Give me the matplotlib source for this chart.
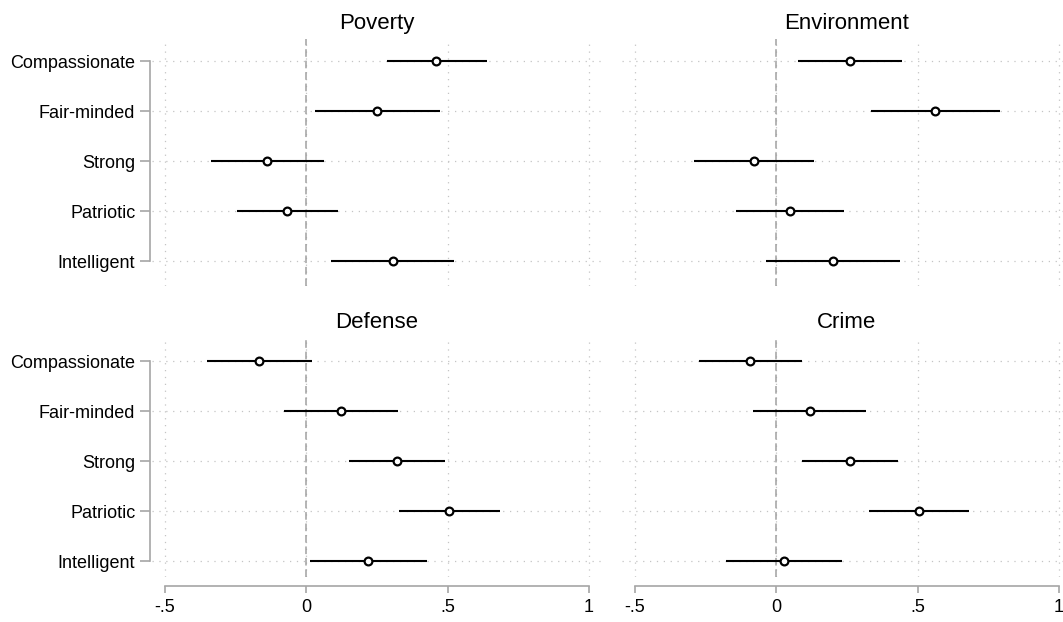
"""
Coefficient plot: trait effects on four issue areas (2x2 panels).
"""

import matplotlib
matplotlib.use("Agg")
import matplotlib.pyplot as plt
import numpy as np

plt.rcParams.update({
    "font.family": ["Liberation Sans", "DejaVu Sans"],
    "font.size": 13,
})

# ── Data (point estimate, lower CI, upper CI), top row first ──────────────────

traits = ["Compassionate", "Fair-minded", "Strong", "Patriotic", "Intelligent"]
panels = ["Poverty", "Environment", "Defense", "Crime"]

poverty_est = [0.460, 0.251, -0.139, -0.067, 0.306]
poverty_lo  = [0.286, 0.030, -0.338, -0.247, 0.087]
poverty_hi  = [0.640, 0.472, 0.062, 0.113, 0.524]

environment_est = [0.260, 0.561, -0.080, 0.047, 0.200]
environment_lo  = [0.076, 0.334, -0.291, -0.143, -0.037]
environment_hi  = [0.443, 0.791, 0.134, 0.239, 0.437]

defense_est = [-0.169, 0.121, 0.320, 0.505, 0.218]
defense_lo  = [-0.353, -0.080, 0.152, 0.327, 0.013]
defense_hi  = [0.020, 0.326, 0.491, 0.684, 0.427]

crime_est = [-0.092, 0.118, 0.261, 0.504, 0.026]
crime_lo  = [-0.274, -0.081, 0.090, 0.327, -0.178]
crime_hi  = [0.092, 0.318, 0.431, 0.682, 0.231]

xticks = [-0.5, 0, 0.5, 1]
xticklabels = ["-.5", "0", ".5", "1"]

series = {
    "Poverty": (poverty_est, poverty_lo, poverty_hi),
    "Environment": (environment_est, environment_lo, environment_hi),
    "Defense": (defense_est, defense_lo, defense_hi),
    "Crime": (crime_est, crime_lo, crime_hi),
}

GRID = "#c4c4c4"
AXIS = "#a6a6a6"

W, H = 1063, 622
fig = plt.figure(figsize=(W / 100, H / 100), dpi=100)

# axes boxes in pixels: (left, top, right, bottom)
boxes = {
    "Poverty":     (152, 39, 602, 286),
    "Environment": (622, 39, 1072, 286),
    "Defense":     (152, 338, 602, 577),
    "Crime":       (622, 338, 1072, 577),
}
row_top = {"Poverty": 61, "Environment": 61, "Defense": 361, "Crime": 361}

ypos = np.arange(len(traits), 0, -1)  # Compassionate = 5 ... Intelligent = 1

for name in panels:
    l, t, r, b = boxes[name]
    ax = fig.add_axes([l / W, 1 - b / H, (r - l) / W, (b - t) / H])
    est, lo, hi = series[name]

    # y limits so rows land at 50 px spacing
    y_top = row_top[name]
    ax.set_ylim(1 - (b - (y_top + 200)) / 50, 5 + (y_top - t) / 50)
    ax.set_xlim(-0.5 - 13 / 283, 1 + 13 / 283)

    for x in xticks:
        ax.axvline(x, color=GRID, lw=0.9, ls=(0, (1, 4.5)), zorder=1)
    for y in ypos:
        ax.axhline(y, color=GRID, lw=0.9, ls=(0, (1, 4.5)), zorder=1)
    ax.axvline(0, color="#a0a0a0", lw=1.1, ls=(0, (5, 2.5)), zorder=2)

    ax.hlines(ypos, lo, hi, color="black", lw=1.5, zorder=3)
    ax.plot(est, ypos, "o", ms=5.6, mfc="white", mec="black", mew=1.6, zorder=4)

    ax.set_title(name, fontsize=16, pad=7)

    for s in ["top", "right"]:
        ax.spines[s].set_visible(False)

    left_col = name in ("Poverty", "Defense")
    bottom_row = name in ("Defense", "Crime")

    if left_col:
        ax.spines["left"].set_position(("outward", 1.5))
        ax.spines["left"].set_bounds(1, 5)
        ax.spines["left"].set_color(AXIS)
        ax.spines["left"].set_linewidth(1.2)
        ax.set_yticks(ypos)
        ax.set_yticklabels(traits)
        ax.tick_params(axis="y", length=7, width=1.2, color=AXIS, pad=3.5)
    else:
        ax.spines["left"].set_visible(False)
        ax.set_yticks([])

    if bottom_row:
        ax.spines["bottom"].set_position(("outward", 6.5))
        ax.spines["bottom"].set_bounds(-0.5, 1)
        ax.spines["bottom"].set_color(AXIS)
        ax.spines["bottom"].set_linewidth(1.2)
        ax.set_xticks(xticks)
        ax.set_xticklabels(xticklabels)
        ax.tick_params(axis="x", length=5, width=1.2, color=AXIS, pad=4)
    else:
        ax.spines["bottom"].set_visible(False)
        ax.set_xticks([])

    ax.set_facecolor("none")

fig.savefig("out.png", dpi=100, facecolor="white")
